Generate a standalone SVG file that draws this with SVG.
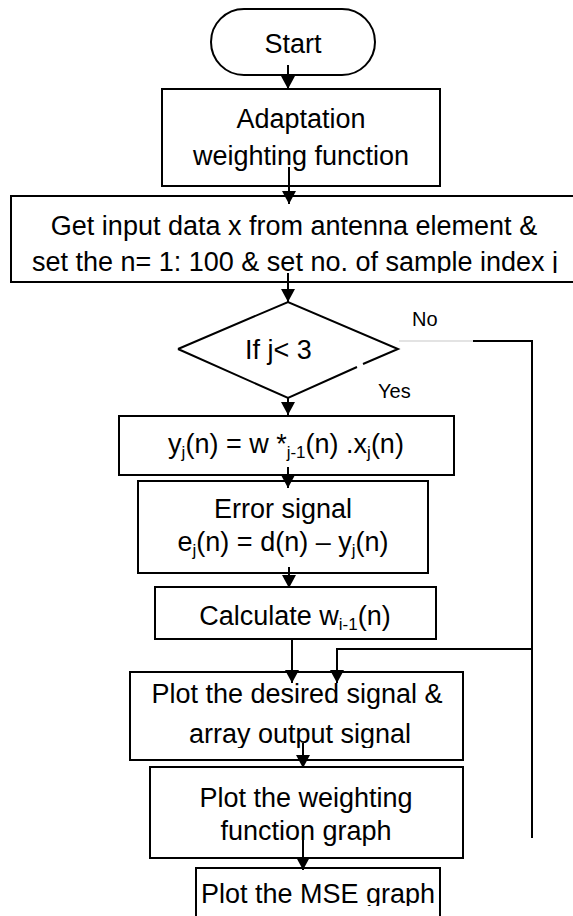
<svg xmlns="http://www.w3.org/2000/svg" width="573" height="916" viewBox="0 0 573 916">
<style>
  text { font-family: "Liberation Sans", Arial, sans-serif; fill: #000; }
  .t { font-size: 27px; text-anchor: middle; }
  .lbl { font-size: 20px; }
  .sub { font-size: 17px; }
  .box { fill: #fff; stroke: #000; stroke-width: 2; }
  .con { fill: none; stroke: #000; stroke-width: 2; }
</style>
<defs>
  <marker id="ah" markerUnits="userSpaceOnUse" markerWidth="14" markerHeight="14" refX="13" refY="7" orient="auto" viewBox="0 0 14 14">
    <path d="M0,0 L13,7 L0,14 z" fill="#000"/>
  </marker>
  <clipPath id="c1"><rect x="0" y="190" width="573" height="83"/></clipPath>
  <clipPath id="c2"><rect x="0" y="670" width="573" height="78"/></clipPath>
  <clipPath id="c3"><rect x="0" y="860" width="573" height="46"/></clipPath>
</defs>
<rect width="573" height="916" fill="#fff"/>

<g id="start">
  <rect class="box" x="211" y="9" width="164" height="66" rx="33" ry="33"/>
  <text class="t" x="293" y="53">Start</text>
</g>
<g id="adaptation">
  <rect class="box" x="162" y="89" width="278" height="97"/>
  <text class="t" x="301" y="128">Adaptation</text>
  <text class="t" x="301" y="165">weighting function</text>
</g>
<g id="input">
  <rect class="box" x="11" y="196" width="575" height="86" stroke-width="2.5"/>
  <text class="t" x="294" y="235">Get input data x from antenna element &amp;</text>
  <text class="t" x="295" y="271" clip-path="url(#c1)">set the n= 1: 100 &amp; set no. of sample index j</text>
</g>
<g id="decision">
  <path class="con" d="M178,349 L288,302 L398,349 L363,364 M357,367 L288,398 L178,349"/>
  <text class="t" x="245" y="359" style="text-anchor:start">If j&lt; 3</text>
</g>
<g id="compute-y">
  <rect class="box" x="119" y="416" width="335" height="59"/>
  <text class="t" x="286" y="453">y<tspan class="sub" dy="5">j</tspan><tspan dy="-5">(n) = w *</tspan><tspan class="sub" dy="5">j-1</tspan><tspan dy="-5">(n) .x</tspan><tspan class="sub" dy="5">j</tspan><tspan dy="-5">(n)</tspan></text>
</g>
<g id="error">
  <rect class="box" x="138" y="481" width="290" height="92"/>
  <text class="t" x="283" y="518">Error signal</text>
  <text class="t" x="283" y="551">e<tspan class="sub" dy="5">j</tspan><tspan dy="-5">(n) = d(n) – y</tspan><tspan class="sub" dy="5">j</tspan><tspan dy="-5">(n)</tspan></text>
</g>
<g id="calculate">
  <rect class="box" x="155" y="587" width="281" height="52"/>
  <text class="t" x="295" y="625">Calculate w<tspan class="sub" dy="5">i-1</tspan><tspan dy="-5">(n)</tspan></text>
</g>
<g id="plot-desired">
  <rect class="box" x="130" y="672" width="333" height="88"/>
  <text class="t" x="297" y="703">Plot the desired signal &amp;</text>
  <text class="t" x="300" y="743" clip-path="url(#c2)">array output signal</text>
</g>
<g id="plot-weighting">
  <rect class="box" x="150" y="767" width="313" height="91"/>
  <text class="t" x="306" y="807">Plot the weighting</text>
  <text class="t" x="306" y="840">function graph</text>
</g>
<g id="plot-mse">
  <rect class="box" x="196" y="868" width="244" height="60"/>
  <text class="t" x="318" y="903" clip-path="url(#c3)">Plot the MSE graph</text>
</g>

<g id="labels">
  <text class="lbl" x="412" y="326">No</text>
  <text class="lbl" x="378" y="398">Yes</text>
</g>

<g id="connectors">
  <line class="con" x1="288" y1="65" x2="288" y2="89" marker-end="url(#ah)"/>
  <line class="con" x1="289" y1="167" x2="289" y2="204" marker-end="url(#ah)"/>
  <line class="con" x1="288" y1="273" x2="288" y2="302" marker-end="url(#ah)"/>
  <line class="con" x1="288" y1="398" x2="288" y2="415" marker-end="url(#ah)"/>
  <line class="con" x1="288" y1="467" x2="288" y2="488" marker-end="url(#ah)"/>
  <line class="con" x1="289" y1="567" x2="289" y2="588" marker-end="url(#ah)"/>
  <line class="con" x1="292" y1="639" x2="292" y2="683" marker-end="url(#ah)"/>
  <line x1="399" y1="341" x2="473" y2="341" stroke="#c8c8c8" stroke-width="1.2"/>
  <path class="con" d="M473,341 L532,341 L532,838"/>
  <path class="con" d="M532,649 L337,649 L337,683" marker-end="url(#ah)"/>
  <line class="con" x1="303" y1="743" x2="303" y2="768" marker-end="url(#ah)"/>
  <line class="con" x1="303" y1="833" x2="303" y2="870" marker-end="url(#ah)"/>
</g>
</svg>
